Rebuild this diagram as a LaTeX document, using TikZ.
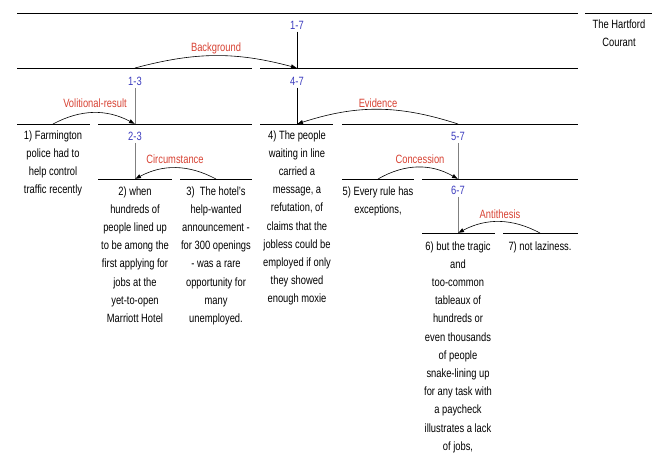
\documentclass[tikz,border=0pt]{standalone}
\usepackage{fontspec}
\usetikzlibrary{arrows.meta}
\setmainfont{Liberation Sans}[FakeStretch=0.78]
\definecolor{spanblue}{RGB}{60,60,190}
\definecolor{relred}{RGB}{215,65,50}
\tikzset{
  span/.style={text=spanblue, anchor=base, inner sep=2.5pt},
  rel/.style={text=relred, anchor=base, inner sep=1pt},
  edu/.style={align=center, anchor=north, inner sep=0pt},
  seg/.style={line width=.8pt},
  arc/.style={->, line width=.6pt},
}
\begin{document}
\begin{tikzpicture}[>={Latex[length=6pt,width=4.5pt]}, x=1pt, y=-1pt, font=\fontsize{12}{18.2}\selectfont]
\useasboundingbox (0,0) rectangle (661,455);
% level lines
\foreach \y/\a/\b in {13/17/578, 13/585/652, 68/17/252, 68/260/578,
    124/17/90, 124/98/252, 124/260/333, 124/342/578,
    179/98/172, 179/180/252, 179/342/414, 179/422/578,
    233/422/495, 233/503/578}
  \draw[seg] (\a,\y)--(\b,\y);

\coordinate (t13) at (135,68);
\coordinate (t47) at (297,68);
\coordinate (t1) at (53,124);
\coordinate (t23) at (135,124);
\coordinate (t4) at (297,124);
\coordinate (t57) at (458,124);
\coordinate (t2) at (135,179);
\coordinate (t3) at (216,179);
\coordinate (t5) at (378,179);
\coordinate (t67) at (458,179);
\coordinate (t6) at (458,233);
\coordinate (t7) at (540,233);

% spans
\node[span] (n17) at (297,29) {1-7};
\node[span] (n13) at (135,85) {1-3};
\node[span] (n47) at (297,85) {4-7};
\node[span] (n23) at (135,140) {2-3};
\node[span] (n57) at (458,140) {5-7};
\node[span] (n67) at (458,194) {6-7};

\draw[seg] (n17) -- (t47);
\draw[seg, gray] (n13) -- (t23);
\draw[seg] (n47) -- (t4);
\draw[seg, gray] (n23) -- (t2);
\draw[seg, gray] (n57) -- (t67);
\draw[seg, gray] (n67) -- (t6);

% relations
\node[rel] (rback) at (216,51) {Background};
\node[rel] (rvol) at (95,107) {Volitional-result};
\node[rel] (revi) at (378,107) {Evidence};
\node[rel] (rcirc) at (175,163) {Circumstance};
\node[rel] (rconc) at (420,163) {Concession};
\node[rel] (ranti) at (500,218) {Antithesis};

\draw[arc] (t13) to[bend left=15] (t47);
\draw[arc] (t1) to[bend left=28] (t23);
\draw[arc] (t57) to[bend right=18] (t4);
\draw[arc] (t3) to[bend right=28] (t2);
\draw[arc] (t5) to[bend left=30] (t67);
\draw[arc] (t7) to[bend right=28] (t6);

% texts
\node[edu] (hc) at (619,19.2) {The Hartford\\Courant};
\node[edu] (e1) at (53,130.2) {1) Farmington\\police had to\\help control\\traffic recently};
\node[edu] (e2) at (135,186.2) {2) when\\hundreds of\\people lined up\\to be among the\\first applying for\\jobs at the\\yet-to-open\\Marriott Hotel};
\node[edu] (e3) at (216,186.2) {3)~ The hotel's\\help-wanted\\announcement -\\for 300 openings\\- was a rare\\opportunity for\\many\\unemployed.};
\node[edu] (e4) at (297,130.2) {4) The people\\waiting in line\\carried a\\message, a\\refutation, of\\claims that the\\jobless could be\\employed if only\\they showed\\enough moxie};
\node[edu] (e5) at (378,186.2) {5) Every rule has\\exceptions,};
\node[edu] (e6) at (458,241.2) {6) but the tragic\\and\\too-common\\tableaux of\\hundreds or\\even thousands\\of people\\snake-lining up\\for any task with\\a paycheck\\illustrates a lack\\of jobs,};
\node[edu] (e7) at (540,241.2) {7) not laziness.};
\end{tikzpicture}
\end{document}
